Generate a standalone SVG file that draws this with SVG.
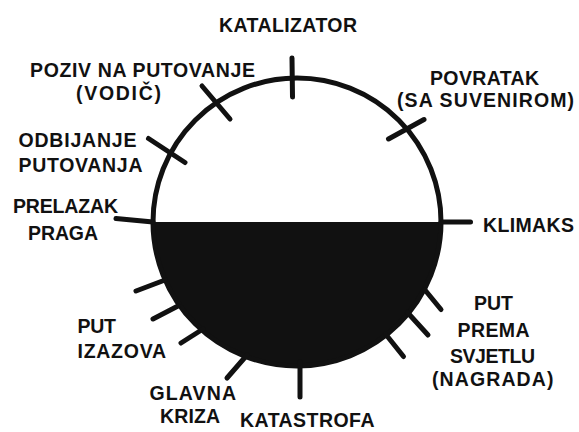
<svg xmlns="http://www.w3.org/2000/svg" width="579" height="432" viewBox="0 0 579 432">
<style>
text{font-family:"Liberation Sans",Arial,sans-serif;font-weight:bold;font-size:19.5px;fill:#111;}
.tick{stroke:#111;stroke-width:5;stroke-linecap:round;fill:none;}
.ring{stroke:#111;stroke-width:5;fill:none;}
</style>
<rect width="579" height="432" fill="#fff"/>
<g id="connectors">
<path d="M153,222 A144,144 0 0 0 441,222 Z" fill="#111"/>
<circle class="ring" cx="297" cy="222" r="144"/>
</g>
<g id="katalizator">
<line class="tick" x1="292" y1="58" x2="292.5" y2="97"/>
<text x="219" y="32" textLength="138" lengthAdjust="spacing">KATALIZATOR</text>
</g>
<g id="poziv">
<line class="tick" x1="202" y1="86" x2="230" y2="119"/>
<text x="30" y="76.5" textLength="225" lengthAdjust="spacing">POZIV NA PUTOVANJE</text>
<text x="76" y="100" textLength="85" lengthAdjust="spacing">(VODIČ)</text>
</g>
<g id="odbijanje">
<line class="tick" x1="148.5" y1="138.5" x2="185" y2="162.5"/>
<text x="18.5" y="146.5" textLength="118" lengthAdjust="spacing">ODBIJANJE</text>
<text x="18.5" y="171.5" textLength="124" lengthAdjust="spacing">PUTOVANJA</text>
</g>
<g id="prelazak">
<line class="tick" x1="116" y1="218.5" x2="153" y2="222"/>
<text x="13" y="213" textLength="105" lengthAdjust="spacing">PRELAZAK</text>
<text x="28" y="240" textLength="70" lengthAdjust="spacing">PRAGA</text>
</g>
<g id="povratak">
<line class="tick" x1="388.5" y1="139" x2="424" y2="119.5"/>
<text x="430" y="85" textLength="109" lengthAdjust="spacing">POVRATAK</text>
<text x="397" y="107" textLength="177" lengthAdjust="spacing">(SA SUVENIROM)</text>
</g>
<g id="klimaks">
<line class="tick" x1="441" y1="222" x2="470.5" y2="222"/>
<text x="483" y="231.5" textLength="91" lengthAdjust="spacing">KLIMAKS</text>
</g>
<g id="put-izazova">
<line class="tick" x1="136" y1="291" x2="165" y2="280"/>
<line class="tick" x1="153" y1="319" x2="178" y2="306"/>
<line class="tick" x1="181" y1="343" x2="203" y2="329"/>
<text x="77.5" y="333" textLength="38.5" lengthAdjust="spacing">PUT</text>
<text x="77.5" y="358" textLength="88.5" lengthAdjust="spacing">IZAZOVA</text>
</g>
<g id="glavna-kriza">
<line class="tick" x1="227" y1="378" x2="247" y2="355"/>
<text x="149.5" y="400" textLength="86.5" lengthAdjust="spacing">GLAVNA</text>
<text x="160" y="423" textLength="60" lengthAdjust="spacing">KRIZA</text>
</g>
<g id="katastrofa">
<line class="tick" x1="300" y1="362" x2="300" y2="397"/>
<text x="240" y="427" textLength="134.5" lengthAdjust="spacing">KATASTROFA</text>
</g>
<g id="put-prema-svjetlu">
<line class="tick" x1="425" y1="290" x2="441" y2="309.5"/>
<line class="tick" x1="407.5" y1="312.5" x2="428" y2="335"/>
<line class="tick" x1="385.5" y1="334" x2="403.5" y2="356.5"/>
<text x="474" y="310" textLength="39" lengthAdjust="spacing">PUT</text>
<text x="457.5" y="336.5" textLength="72" lengthAdjust="spacing">PREMA</text>
<text x="450" y="363" textLength="85" lengthAdjust="spacing">SVJETLU</text>
<text x="432" y="386" textLength="121.5" lengthAdjust="spacing">(NAGRADA)</text>
</g>
</svg>
